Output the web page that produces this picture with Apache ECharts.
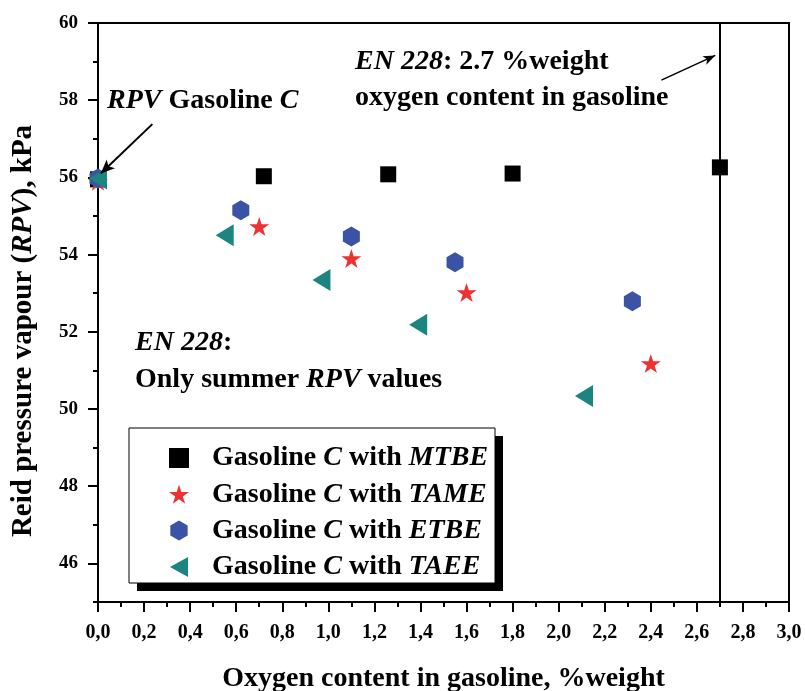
<!DOCTYPE html>
<html>
<head>
<meta charset="utf-8">
<script src="https://cdn.jsdelivr.net/npm/echarts@6/dist/echarts.min.js"></script>
<style>html,body{margin:0;padding:0;background:#fff}#c{width:805px;height:691px}</style>
</head>
<body>
<div id="c"></div>
<script>
// ---- data ----
const mtbeX = [0.00, 0.72, 1.26, 1.80, 2.70];
const mtbeY = [55.95, 56.03, 56.08, 56.10, 56.26];
const tameX = [0.00, 0.70, 1.10, 1.60, 2.40];
const tameY = [55.90, 54.73, 53.90, 53.02, 51.18];
const etbeX = [0.00, 0.62, 1.10, 1.55, 2.32];
const etbeY = [55.97, 55.15, 54.47, 53.80, 52.79];
const taeeX = [0.00, 0.55, 0.97, 1.39, 2.11];
const taeeY = [55.97, 54.50, 53.34, 52.18, 50.34];
const seriesNames = ['Gasoline C with MTBE', 'Gasoline C with TAME', 'Gasoline C with ETBE', 'Gasoline C with TAEE'];
const yMajorTicks = [46, 48, 50, 52, 54, 56, 58, 60];
const limitX = 2.7;
const arrow1 = [[0.236, 57.38], [0.012, 56.10]];
const arrow2 = [[2.446, 58.52], [2.68, 59.16]];

const FONT = 'Liberation Serif';
function pairs(xs, ys) { return xs.map((x, i) => [x, ys[i]]); }

function starPath() {
  const p = [];
  for (let i = 0; i < 10; i++) {
    const r = i % 2 ? 0.382 : 1;
    const a = (-90 + i * 36) * Math.PI / 180;
    p.push((i ? 'L' : 'M') + (r * Math.cos(a)).toFixed(4) + ',' + (r * Math.sin(a)).toFixed(4));
  }
  return 'path://' + p.join(' ') + ' Z';
}
const STAR = starPath();
const HEX = 'path://M0,-1 L0.866,-0.5 L0.866,0.5 L0,1 L-0.866,0.5 L-0.866,-0.5 Z';
const TRI_LEFT = 'path://M-1,0 L1,-1.1 L1,1.1 Z';

const chart = echarts.init(document.getElementById('c'));

const rich = {
  n: { fontFamily: FONT, fontWeight: 'bold', fontSize: 28, color: '#000' },
  i: { fontFamily: FONT, fontWeight: 'bold', fontStyle: 'italic', fontSize: 28, color: '#000' }
};
const richY = {
  n: { fontFamily: FONT, fontWeight: 'bold', fontSize: 29, color: '#000' },
  i: { fontFamily: FONT, fontWeight: 'bold', fontStyle: 'italic', fontSize: 29, color: '#000' }
};
const legendRich = {
  p: { width: 18, lineHeight: 24 },
  n: { fontFamily: FONT, fontWeight: 'bold', fontSize: 28, color: '#000', lineHeight: 24 },
  i: { fontFamily: FONT, fontWeight: 'bold', fontStyle: 'italic', fontSize: 28, color: '#000', lineHeight: 24 }
};

function legendFmt(name) {
  const suf = name.split(' ').pop();
  return '{p|}{n|Gasoline }{i|C}{n| with }{i|' + suf + '}';
}

chart.setOption({
  animation: false,
  backgroundColor: '#fff',
  grid: { left: 98, right: 16, top: 23, bottom: 89, show: true, containLabel: false, outerBoundsMode: 'none',
    borderColor: '#000', borderWidth: 2, backgroundColor: 'transparent' },
  xAxis: {
    type: 'value', min: 0, max: 3, interval: 0.2,
    name: 'Oxygen content in gasoline, %weight', nameLocation: 'middle', nameGap: 63,
    nameTextStyle: { fontFamily: FONT, fontWeight: 'bold', fontSize: 28, color: '#000' },
    axisLine: { lineStyle: { color: '#000', width: 2 } },
    axisTick: { show: true, length: 10, lineStyle: { color: '#000', width: 2 } },
    minorTick: { show: true, splitNumber: 2, length: 5, lineStyle: { color: '#000', width: 2 } },
    splitLine: { show: false },
    axisLabel: { margin: 21, fontFamily: FONT, fontWeight: 'bold', fontSize: 20, color: '#000',
      formatter: v => v.toFixed(1).replace('.', ',') }
  },
  yAxis: [{
    type: 'value', min: 45, max: 60, interval: 1,
    axisLine: { lineStyle: { color: '#000', width: 2 } },
    axisTick: { show: true, length: 5, lineStyle: { color: '#000', width: 2 } },
    splitLine: { show: false },
    axisLabel: { margin: 20, fontFamily: FONT, fontWeight: 'bold', fontSize: 19, color: '#000',
      formatter: v => (v % 2 === 0 ? String(v) : '') }
  }, {
    type: 'value', min: 45, max: 60, position: 'left', offset: 0,
    axisLine: { show: false },
    axisTick: { show: true, length: 10, customValues: yMajorTicks, lineStyle: { color: '#000', width: 2 } },
    axisLabel: { show: false },
    splitLine: { show: false }
  }],
  legend: {
    data: seriesNames,
    orient: 'vertical', left: 164, top: 439, itemGap: 8.3,
    itemWidth: 20, itemHeight: 20, z: 10, symbolKeepAspect: true,
    formatter: legendFmt,
    textStyle: { fontFamily: FONT, fontWeight: 'bold', fontSize: 28, color: '#000', lineHeight: 24, rich: legendRich },
    selectedMode: false
  },
  graphic: [
    { type: 'rect', z: 5, shape: { x: 137, y: 436, width: 366, height: 155 }, style: { fill: '#000' } },
    { type: 'rect', z: 6, shape: { x: 129, y: 428, width: 366, height: 155 }, style: { fill: '#fff', stroke: '#000', lineWidth: 1 } },
    { type: 'text', z: 20, x: 24, y: 331, rotation: Math.PI / 2,
      style: { text: '{n|Reid pressure vapour (}{i|RPV}{n|), kPa}', rich: richY, align: 'center', verticalAlign: 'middle' } },
    { type: 'text', z: 20, x: 107, y: 101, style: { text: '{i|RPV}{n| Gasoline }{i|C}', rich: rich, verticalAlign: 'middle' } },
    { type: 'text', z: 20, x: 355, y: 62, style: { text: '{i|EN 228}{n|: 2.7 %weight}', rich: rich, verticalAlign: 'middle' } },
    { type: 'text', z: 20, x: 355, y: 98, style: { text: '{n|oxygen content in gasoline}', rich: rich, verticalAlign: 'middle' } },
    { type: 'text', z: 20, x: 135, y: 343, style: { text: '{i|EN 228}{n|:}', rich: rich, verticalAlign: 'middle' } },
    { type: 'text', z: 20, x: 135, y: 380, style: { text: '{n|Only summer }{i|RPV}{n| values}', rich: rich, verticalAlign: 'middle' } }
  ],
  series: [
    {
      name: seriesNames[0], type: 'scatter', data: pairs(mtbeX, mtbeY), symbol: 'rect', symbolSize: 16,
      itemStyle: { color: '#000', opacity: 1 }, z: 3
    },
    {
      name: seriesNames[1], type: 'scatter', data: pairs(tameX, tameY), symbol: STAR, symbolSize: [20, 19],
      itemStyle: { color: '#EE3131', opacity: 1 }, z: 3
    },
    {
      name: seriesNames[2], type: 'scatter', data: pairs(etbeX, etbeY), symbol: HEX, symbolSize: [17, 20],
      itemStyle: { color: '#3A53A4', opacity: 1 }, z: 3
    },
    {
      name: seriesNames[3], type: 'scatter', data: pairs(taeeX, taeeY), symbol: TRI_LEFT, symbolSize: [18, 22],
      itemStyle: { color: '#1C8580', opacity: 1 }, z: 3
    },
    {
      name: 'annot', type: 'scatter', data: [], silent: true, z: 4,
      markLine: {
        silent: true, animation: false, label: { show: false },
        lineStyle: { color: '#000', type: 'solid', width: 2 },
        data: [
          [{ xAxis: limitX, yAxis: 45, symbol: 'none' }, { xAxis: limitX, yAxis: 60, symbol: 'none' }],
          [{ coord: arrow1[0], symbol: 'none' }, { coord: arrow1[1], symbol: 'arrow', symbolSize: [9, 14] }],
          [{ coord: arrow2[0], symbol: 'none', lineStyle: { width: 1.5 } }, { coord: arrow2[1], symbol: 'arrow', symbolSize: [7, 12], lineStyle: { width: 1.5 } }]
        ]
      }
    }
  ]
});
</script>
</body>
</html>
